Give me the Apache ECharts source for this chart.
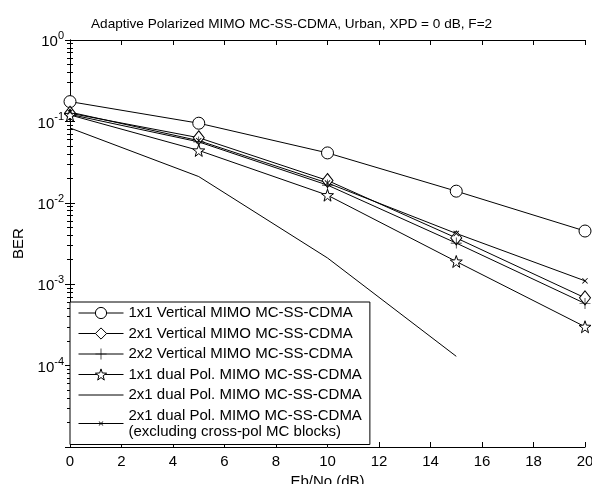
<!DOCTYPE html>
<html>
<head>
<meta charset="utf-8">
<script src="https://cdn.jsdelivr.net/npm/echarts@6/dist/echarts.min.js"></script>
<style>
html,body{margin:0;padding:0;background:#fff;}
#chart{width:592px;height:484px;}
</style>
</head>
<body>
<div id="chart"></div>
<script>
const ebno = [0, 5, 10, 15, 20];
const vert1x1 = [0.175, 0.095, 0.041, 0.0139, 0.0045];
const vert2x1 = [0.126, 0.063, 0.0188, 0.0037, 0.00068];
const vert2x2 = [0.122, 0.056, 0.0165, 0.0032, 0.00058];
const dual1x1 = [0.12, 0.044, 0.0124, 0.0019, 0.0003];
const dual2x1 = [0.083, 0.021, 0.0021, 0.00013];
const dual2x1Excl = [0.13, 0.058, 0.0175, 0.0042, 0.0011];

const names = [
  '1x1 Vertical MIMO MC-SS-CDMA',
  '2x1 Vertical MIMO MC-SS-CDMA',
  '2x2 Vertical MIMO MC-SS-CDMA',
  '1x1 dual Pol. MIMO MC-SS-CDMA',
  '2x1 dual Pol. MIMO MC-SS-CDMA',
  '2x1 dual Pol. MIMO MC-SS-CDMA\n(excluding cross-pol MC blocks)'
];
const xTicks = { min: 0, max: 20, interval: 2 };
const yRange = { min: 1e-5, max: 1 };

const FONT = 'Liberation Sans, Arial, sans-serif';
const pair = (ys) => ys.map((y, i) => [ebno[i], y]);

const starPath = 'path://M50,0 L61.8,36.2 L100,38.2 L69.1,61.8 L79.4,100 L50,77 L20.6,100 L30.9,61.8 L0,38.2 L38.2,36.2 Z';
const plusPath = 'path://M9.4,0h1.2v20h-1.2z M0,9.4h20v1.2h-20z';
// small x cross inside a larger invisible box (moveTo corners enlarge the bounding box)
const xPath = 'path://M0,0 M24,24 M8,7 L12,11 L16,7 L17,8 L13,12 L17,16 L16,17 L12,13 L8,17 L7,16 L11,12 L7,8 Z';

const hollow = { color: '#fff', borderColor: '#000', borderWidth: 1, opacity: 1 };
const solid = { color: '#000', borderColor: '#000', borderWidth: 0, opacity: 1 };

function mk(name, data, symbol, size, filled) {
  return {
    name: name,
    type: 'line',
    data: data,
    symbol: symbol,
    symbolSize: size,
    showSymbol: true,
    xAxisIndex: 0, yAxisIndex: 0,
    color: '#000',
    lineStyle: { color: '#000', width: 1 },
    itemStyle: filled ? solid : hollow,
    emphasis: { disabled: true },
    animation: false
  };
}

const chart = echarts.init(document.getElementById('chart'), null, { renderer: 'canvas' });
chart.setOption({
  backgroundColor: '#fff',
  animation: false,
  textStyle: { fontFamily: FONT },
  title: {
    text: 'Adaptive Polarized MIMO MC-SS-CDMA, Urban, XPD = 0 dB, F=2',
    left: 86, top: 12,
    textStyle: { fontFamily: FONT, fontSize: 13.6, fontWeight: 'normal', color: '#000' }
  },
  grid: { left: 70, right: 7, top: 40, bottom: 37, containLabel: false, outerBoundsMode: 'none' },
  xAxis: [{
    type: 'value', min: xTicks.min, max: xTicks.max, interval: xTicks.interval,
    name: 'Eb/No (dB)', nameLocation: 'middle', nameGap: 17,
    nameTextStyle: { fontFamily: FONT, fontSize: 15, color: '#000' },
    axisLine: { lineStyle: { color: '#000', width: 1 } },
    axisTick: { inside: true, length: 5, lineStyle: { color: '#000' } },
    axisLabel: { fontFamily: FONT, fontSize: 15, color: '#000', margin: 7 },
    splitLine: { show: false }
  }, {
    type: 'value', position: 'top', min: xTicks.min, max: xTicks.max, interval: xTicks.interval,
    axisLine: { show: true, lineStyle: { color: '#000', width: 1 } },
    axisTick: { inside: true, length: 5, lineStyle: { color: '#000' } },
    axisLabel: { show: false }, splitLine: { show: false }
  }],
  yAxis: [{
    type: 'log', logBase: 10, min: yRange.min, max: yRange.max,
    name: 'BER', nameLocation: 'middle', nameGap: 44,
    nameTextStyle: { fontFamily: FONT, fontSize: 15, color: '#000' },
    axisLine: { show: true, lineStyle: { color: '#000', width: 1 } },
    axisTick: { inside: true, length: 5, lineStyle: { color: '#000' } },
    minorTick: { show: true, splitNumber: 9, length: 3, lineStyle: { color: '#000' } },
    axisLabel: {
      margin: 6, color: '#000',
      formatter: function (v) {
        const e = Math.round(Math.log10(v));
        if (e === -5) return '';
        return '{b|10}{s|' + e + '}';
      },
      rich: {
        b: { fontFamily: FONT, fontSize: 15, color: '#000', verticalAlign: 'bottom' },
        s: { fontFamily: FONT, fontSize: 11, color: '#000', verticalAlign: 'top', padding: [0, 0, 8, 0] }
      }
    },
    splitLine: { show: false }
  }, {
    type: 'log', logBase: 10, min: yRange.min, max: yRange.max, position: 'right',
    axisLine: { show: true, lineStyle: { color: '#000', width: 1 } },
    axisTick: { inside: true, length: 5, lineStyle: { color: '#000' } },
    minorTick: { show: true, splitNumber: 9, length: 3, lineStyle: { color: '#000' } },
    axisLabel: { show: false }, splitLine: { show: false }
  }],
  legend: {
    orient: 'vertical', left: 70, top: 302,
    itemWidth: 45, itemHeight: 14, itemGap: 4.5,
    padding: [3, 8, 5, 8],
    backgroundColor: '#fff', borderColor: '#000', borderWidth: 1,
    textStyle: { fontFamily: FONT, fontSize: 15, color: '#000', lineHeight: 16 },
    lineStyle: { color: '#000', width: 1 },
    selectedMode: false,
    data: [
      { name: names[0], itemStyle: hollow },
      { name: names[1], itemStyle: hollow },
      { name: names[2], itemStyle: solid },
      { name: names[3], itemStyle: hollow },
      { name: names[4], itemStyle: { opacity: 0 } },
      { name: names[5], itemStyle: solid }
    ]
  },
  series: [
    mk(names[0], pair(vert1x1), 'circle', 12, false),
    mk(names[1], pair(vert2x1), 'diamond', [11, 14], false),
    mk(names[2], pair(vert2x2), plusPath, 11, true),
    mk(names[3], pair(dual1x1), starPath, 12, false),
    Object.assign(mk(names[4], pair(dual2x1), 'circle', 0, false), { showSymbol: false }),
    mk(names[5], pair(dual2x1Excl), xPath, 14, true)
  ]
});
</script>
</body>
</html>
